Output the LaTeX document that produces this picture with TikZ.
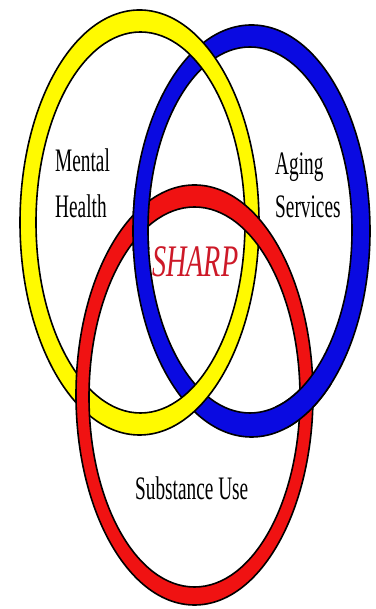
\documentclass[tikz,border=0pt]{standalone}
\usepackage{fontspec}
\setmainfont{Liberation Serif}
\definecolor{ringyellow}{RGB}{255,250,0}
\definecolor{ringblue}{RGB}{10,10,225}
\definecolor{ringred}{RGB}{240,18,18}
\definecolor{sharpred}{RGB}{205,25,40}
\tikzset{
  ringfill/.style={fill=#1, even odd rule},
  ringline/.style={draw=black, line width=1.6pt},
  lbl/.style={anchor=base west, inner sep=0pt, font=\fontsize{19.3}{22}\selectfont},
}
\newcommand{\yellowring}{%
  \fill[ringfill=ringyellow] (139.5,386.5) ellipse [x radius=119.5, y radius=212.5]
        (140.5,386.5) ellipse [x radius=104.5, y radius=190.5];
  \draw[ringline] (139.5,386.5) ellipse [x radius=119.5, y radius=212.5];
  \draw[ringline] (140.5,386.5) ellipse [x radius=104.5, y radius=190.5];}
\newcommand{\bluering}{%
  \fill[ringfill=ringblue] (251.5,378) ellipse [x radius=118.5, y radius=206]
        (250,379) ellipse [x radius=102, y radius=183];
  \draw[ringline] (251.5,378) ellipse [x radius=118.5, y radius=206];
  \draw[ringline] (250,379) ellipse [x radius=102, y radius=183];}
\newcommand{\redring}{%
  \fill[ringfill=ringred] (194.5,214) ellipse [x radius=118.5, y radius=210]
        (194.5,212) ellipse [x radius=105.5, y radius=190];
  \draw[ringline] (194.5,214) ellipse [x radius=118.5, y radius=210];
  \draw[ringline] (194.5,212) ellipse [x radius=105.5, y radius=190];}
\begin{document}
\begin{tikzpicture}[x=1pt,y=1pt]
  \useasboundingbox[fill=white] (0,0) rectangle (375,609);
  \bluering
  \yellowring
  \redring
  \begin{scope}
    \clip (138,389) circle (32);
    \bluering
  \end{scope}
  \begin{scope}
    \clip (307,206) circle (32);
    \bluering
  \end{scope}
  \node[lbl] (mental) at (55,437) {\scalebox{1}[1.7]{Mental}};
  \node[lbl] (health) at (55,391) {\scalebox{1}[1.7]{Health}};
  \node[lbl] (aging) at (275,434) {\scalebox{1}[1.7]{Aging}};
  \node[lbl] (services) at (275,391) {\scalebox{1}[1.7]{Services}};
  \node[lbl, font=\fontsize{28.2}{32}\selectfont\itshape, text=sharpred] (sharp) at (152,332) {\scalebox{1}[1.6]{SHARP}};
  \node[lbl] (subst) at (135,109) {\scalebox{1}[1.7]{Substance Use}};
\end{tikzpicture}
\end{document}
